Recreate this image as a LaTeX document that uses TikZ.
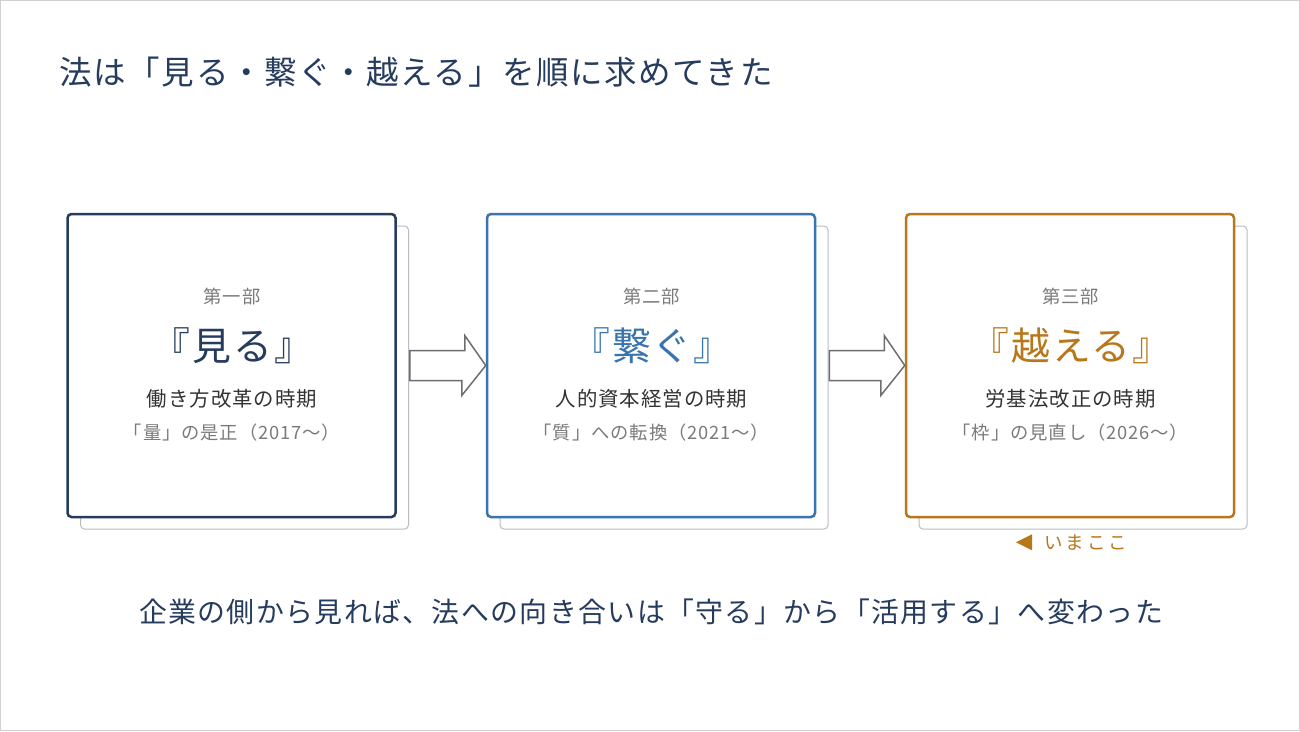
\documentclass[tikz,border=0pt]{standalone}
\usepackage{fontspec}
\setmainfont{Noto Sans CJK JP}[LetterSpace=5]
\newfontfamily\widefont{Noto Sans CJK JP}[LetterSpace=15]
\usetikzlibrary{calc}
\definecolor{navy}{HTML}{263C5E}
\definecolor{bluec}{HTML}{3A74AD}
\definecolor{orangec}{HTML}{B8771A}
\definecolor{graytxt}{HTML}{7A7A7A}
\definecolor{darktxt}{HTML}{333333}
\definecolor{shadowc}{HTML}{B8BCC2}
\definecolor{arrowc}{HTML}{6E6E6E}
\definecolor{framec}{HTML}{D0D0D0}
\tikzset{
  card/.style={draw, fill=white, rounded corners=4pt, line width=2.5pt, minimum width=328pt, minimum height=303pt, inner sep=0pt},
  shadowcard/.style={draw=shadowc, fill=white, rounded corners=4pt, line width=1pt, minimum width=328pt, minimum height=303pt, inner sep=0pt},
  partlbl/.style={font=\fontsize{18.3}{21}\selectfont, text=graytxt},
  bigword/.style={font=\fontsize{38.8}{44}\selectfont},
  period/.style={font=\fontsize{20.4}{24}\selectfont, text=darktxt},
  sublbl/.style={font=\fontsize{18.3}{22}\selectfont, text=graytxt},
  blockarrow/.style={draw=arrowc, fill=white, line width=1.5pt, line join=miter},
}
\begin{document}
\begin{tikzpicture}[x=1pt,y=-1pt]
\path[use as bounding box, draw=framec, fill=white, line width=1pt] (0.5,0.5) rectangle (1299.5,730.5);

\node[anchor=west, text=navy, font=\fontsize{32.5}{38}\selectfont] (title) at (56,72) {法は「見る・繋ぐ・越える」を順に求めてきた};

% shadows
\node[shadowcard] (s1) at (244.5,377.5) {};
\node[shadowcard] (s2) at (664,377.5) {};
\node[shadowcard] (s3) at (1083,377.5) {};

% cards
\node[card, draw=navy] (b1) at (231.5,365.5) {};
\node[card, draw=bluec] (b2) at (651,365.5) {};
\node[card, draw=orangec] (b3) at (1070,365.5) {};

% block arrows
\draw[blockarrow] ($(b1.east)+(13,-15)$) -- ++(55,0) -- ++(0,-15) -- (b2.west) -- ($(b2.west)+(-24,30)$) -- ++(0,-15) -- ($(b1.east)+(13,15)$) -- cycle;
\draw[blockarrow] ($(b2.east)+(13,-15)$) -- ++(55,0) -- ++(0,-15) -- (b3.west) -- ($(b3.west)+(-24,30)$) -- ++(0,-15) -- ($(b2.east)+(13,15)$) -- cycle;

% card 1
\node[partlbl] (p1) at (232,297) {第一部};
\node[bigword, text=navy] (w1) at (232.5,346) {『見る』};
\node[period] (t1) at (232,399) {働き方改革の時期};
\node[sublbl] (u1) at (232,433) {「量」の是正（2017～）};

% card 2
\node[partlbl] (p2) at (651.5,297) {第二部};
\node[bigword, text=bluec] (w2) at (652,346) {『繋ぐ』};
\node[period] (t2) at (651.5,399) {人的資本経営の時期};
\node[sublbl] (u2) at (651.5,433) {「質」への転換（2021～）};

% card 3
\node[partlbl] (p3) at (1070.5,297) {第三部};
\node[bigword, text=orangec] (w3) at (1071,346) {『越える』};
\node[period] (t3) at (1070.5,399) {労基法改正の時期};
\node[sublbl] (u3) at (1070.5,433) {「枠」の見直し（2026～）};

% now marker
\fill[orangec] ($(b3.south)+(-54,24)$) -- ++(16,-8) -- ++(0,16) -- cycle;
\node[anchor=west, text=orangec, font=\widefont\fontsize{18.5}{22}\selectfont] (now) at ($(b3.south)+(-29,24)$) {いまここ};

% bottom message
\node[text=navy, font=\fontsize{27.9}{33}\selectfont] (msg) at (651,612) {企業の側から見れば、法への向き合いは「守る」から「活用する」へ変わった};
\end{tikzpicture}
\end{document}
